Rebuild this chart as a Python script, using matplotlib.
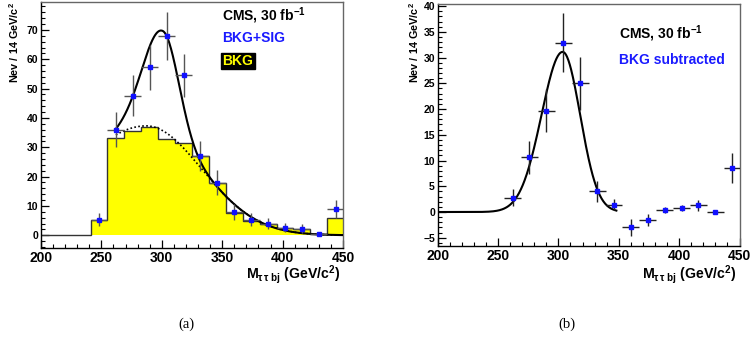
import numpy as np
import matplotlib
matplotlib.use("Agg")
import matplotlib.pyplot as plt
from matplotlib.ticker import MultipleLocator

plt.rcParams['font.family'] = ['Liberation Sans', 'DejaVu Sans']
plt.rcParams['font.weight'] = 'bold'
plt.rcParams['mathtext.fontset'] = 'custom'
plt.rcParams['mathtext.rm'] = 'Liberation Sans:bold'
plt.rcParams['mathtext.bf'] = 'Liberation Sans:bold'
plt.rcParams['mathtext.it'] = 'Liberation Sans:bold'
plt.rcParams['mathtext.sf'] = 'Liberation Sans:bold'

# ---------------- data ----------------
bin_edges = [199, 213, 227, 241, 255, 269, 283, 297, 311, 325, 339, 353, 367, 381, 395, 409, 423, 437, 451]
bkg_hist = [0, 0, 0, 5.1, 33.1, 35.7, 36.8, 32.7, 31.3, 26.9, 17.7, 7.7, 4.8, 3.8, 2.4, 2.0, 0.3, 5.8]

left_x = [248, 262, 276, 290, 304, 318, 332, 346, 360, 374, 388, 402, 416, 430, 444]
left_y = [5.3, 36.0, 47.6, 57.3, 67.8, 54.5, 27.0, 17.9, 8.0, 5.3, 4.0, 2.6, 2.2, 0.55, 8.9]
left_err = [2.3, 6.0, 6.9, 7.6, 8.2, 7.4, 5.2, 4.2, 2.8, 2.3, 2.0, 1.6, 1.5, 0.7, 3.0]

right_x = [262, 276, 290, 304, 318, 332, 346, 360, 374, 388, 402, 416, 430, 444]
right_y = [2.8, 10.6, 19.7, 32.9, 25.0, 4.0, 1.4, -3.0, -1.6, 0.4, 0.8, 1.3, 0.1, 8.6]
right_err = [1.7, 3.2, 4.1, 5.8, 5.2, 2.0, 1.1, 1.7, 1.2, 0.5, 0.6, 1.1, 0.2, 2.9]
half_bin = 7

# fit parameters (bifurcated gaussians)
bkg_fit = dict(amp=37.3, mu=287.0, sl=60.0, sr=46.0)
sig_fit_left = dict(amp=34.0, mu=301.0, sl=16.5, sr=13.0)
sig_fit_right = dict(amp=31.1, mu=303.5, sl=17.5, sr=14.5)
left_fit_range = (262, 450)
right_fit_range = (200, 348)


def bigauss(x, amp, mu, sl, sr):
    s = np.where(x < mu, sl, sr)
    return amp * np.exp(-0.5 * ((x - mu) / s) ** 2)


W, H = 751, 349
fig = plt.figure(figsize=(W / 100, H / 100), dpi=100)


def px(x, y):
    return x / W, 1 - y / H


axL = fig.add_axes([41 / W, 1 - 248 / H, (343 - 41) / W, (248 - 1.5) / H])
axR = fig.add_axes([437.7 / W, 1 - 246 / H, (739.5 - 437.7) / W, (246 - 4) / H])


def style(ax, ymajor, yminor):
    ax.xaxis.set_major_locator(MultipleLocator(50))
    ax.xaxis.set_minor_locator(MultipleLocator(10))
    ax.yaxis.set_major_locator(MultipleLocator(ymajor))
    ax.yaxis.set_minor_locator(MultipleLocator(yminor))
    ax.tick_params(which='both', direction='in', top=False, right=False, color='black')
    ax.tick_params(which='major', length=6, width=0.9)
    ax.tick_params(which='minor', length=3, width=0.8)
    ax.tick_params(axis='x', labelsize=10, pad=2.5)
    ax.tick_params(axis='y', labelsize=7.5, pad=2)
    for lab in ax.get_xticklabels() + ax.get_yticklabels():
        lab.set_fontweight('bold')
    for s in ['top', 'right']:
        ax.spines[s].set_color('#666666')
    for s in ['left', 'bottom']:
        ax.spines[s].set_color('black')
    for s in ax.spines.values():
        s.set_linewidth(1.0)
    ax.set_xlim(200, 450)


# ---------------- left panel ----------------
style(axL, 10, 2)
axL.set_ylim(-4.33, 79.7)
axL.stairs(bkg_hist, bin_edges, fill=True, color='#ffff00', zorder=1)
axL.stairs(bkg_hist, bin_edges, fill=False, color='#333333', lw=1.0, zorder=2)

xl = np.linspace(*left_fit_range, 400)
bk = bigauss(xl, **bkg_fit)
axL.plot(xl, bk, color='black', lw=1.2, ls=(0, (1, 1.4)), zorder=3)
axL.plot(xl, bk + bigauss(xl, **sig_fit_left), color='black', lw=1.5, zorder=4)

axL.errorbar(left_x, left_y, yerr=left_err, xerr=half_bin, fmt='s', ms=2.2,
             mfc='#1010ff', mec='#1010ff', ecolor='#555555', elinewidth=1.0,
             capsize=0, zorder=5)

# ---------------- right panel ----------------
style(axR, 5, 1)
axR.set_ylim(-6.6, 40.4)
xr = np.linspace(*right_fit_range, 400)
axR.plot(xr, bigauss(xr, **sig_fit_right), color='black', lw=1.5, zorder=3)
axR.errorbar(right_x, right_y, yerr=right_err, xerr=half_bin, fmt='s', ms=2.2,
             mfc='#1010ff', mec='#1010ff', ecolor='#222222', elinewidth=1.0,
             capsize=0, zorder=5)

# ---------------- texts ----------------
fs = 10
fig.text(*px(222, 21), r'CMS, 30 fb$^{-1}$', fontsize=fs, fontweight='bold',
         color='black', ha='left', va='baseline')
fig.text(*px(222, 42.3), 'BKG+SIG', fontsize=fs, fontweight='bold',
         color='#1a1aff', ha='left', va='baseline')
fig.text(*px(222.3, 65), 'BKG', fontsize=fs, fontweight='bold', color='#ffff00',
         ha='left', va='baseline',
         bbox=dict(boxstyle='square,pad=0.1', fc='black', ec='black'))

fig.text(*px(619.3, 38.3), r'CMS, 30 fb$^{-1}$', fontsize=fs, fontweight='bold',
         color='black', ha='left', va='baseline')
fig.text(*px(619.3, 64), 'BKG subtracted', fontsize=fs, fontweight='bold',
         color='#1a1aff', ha='left', va='baseline')

ylab = r'Nev / 14 GeV/c$^{2}$'
fig.text(*px(14, 2.5), ylab, fontsize=7.8, fontweight='bold', rotation=90,
         ha='center', va='top')
fig.text(*px(414, 2.5), ylab, fontsize=7.8, fontweight='bold', rotation=90,
         ha='center', va='top')

xlab = r'M$_{\tau\,\tau\;\rm bj}$ (GeV/c$^{2}$)'
fig.text(*px(341, 279), xlab, fontsize=10.2, fontweight='bold',
         ha='right', va='baseline')
fig.text(*px(737, 279), xlab, fontsize=10.2, fontweight='bold',
         ha='right', va='baseline')

fig.text(*px(186, 324), '(a)', fontsize=10.5, family='Liberation Serif',
         fontweight='normal', ha='center', va='center')
fig.text(*px(567, 324), '(b)', fontsize=10.5, family='Liberation Serif',
         fontweight='normal', ha='center', va='center')

fig.savefig('out.png', dpi=100)
